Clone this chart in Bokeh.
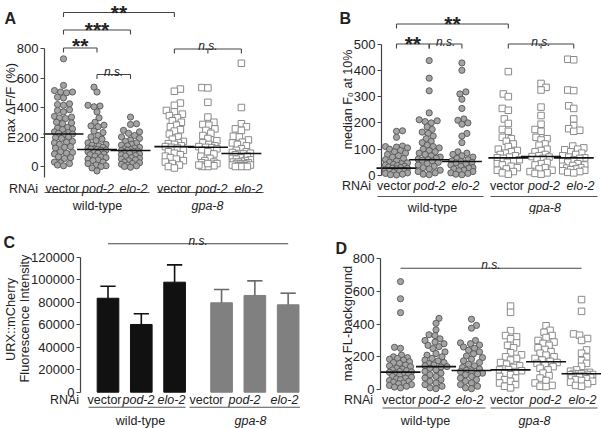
import math
from bokeh.plotting import figure
from bokeh.layouts import gridplot
from bokeh.models import Range1d, FixedTicker, BasicTickFormatter, Label
from bokeh.embed import file_html
from bokeh.resources import INLINE

FONT = "Liberation Sans"
INK = "#222222"
LINE = "#444444"

# ---------------- data ----------------
rnai_labels = ["vector", "pod-2", "elo-2", "vector", "pod-2", "elo-2"]
rnai_italic = [False, True, True, False, True, True]
strain_labels = ["wild-type", "gpa-8"]
strain_italic = [False, True]

# Panel A: max dF/F (%)
a_wt_vector = [730, 550, 515, 505, 505, 500, 470, 465, 425, 420, 415, 385, 380, 370, 340, 335,
               330, 325, 300, 295, 290, 265, 260, 255, 250, 235, 230, 225, 220, 215, 200, 195,
               190, 170, 165, 160, 150, 135, 130, 125, 100, 95, 90, 85, 65, 60, 55, 30, 25, 20, 10, 5]
a_wt_pod2 = [538, 505, 415, 410, 405, 370, 330, 300, 280, 275, 270, 240, 230, 210, 200, 185,
             175, 160, 150, 145, 140, 130, 125, 120, 118, 115, 112, 110, 100, 95, 90, 85, 80,
             70, 65, 60, 50, 45, 40, 30, 20, 10, 5, 0, -10, -30]
a_wt_elo2 = [335, 290, 285, 245, 235, 225, 210, 200, 190, 180, 170, 160, 150, 145, 140, 130,
             125, 120, 115, 110, 108, 105, 100, 95, 90, 85, 80, 75, 70, 60, 55, 50, 45, 40,
             30, 25, 20, 15, 10, 5, 0, -5]
a_gpa_vector = [525, 510, 430, 415, 380, 370, 355, 345, 330, 310, 300, 280, 270, 250, 240, 220,
                200, 185, 170, 160, 155, 150, 140, 135, 130, 125, 110, 100, 90, 80, 70, 60, 50,
                40, 30, 20, 10, 0, -10]
a_gpa_pod2 = [535, 533, 435, 335, 300, 285, 280, 255, 245, 225, 210, 190, 175, 160, 150, 140,
              135, 130, 128, 120, 110, 100, 85, 70, 55, 40, 30, 25, 20, 15, 10, 5, 0, 0, 10, 20]
a_gpa_elo2 = [700, 400, 290, 270, 255, 245, 205, 200, 180, 165, 160, 150, 140, 120, 110, 100,
              95, 90, 88, 85, 80, 70, 60, 55, 50, 45, 40, 35, 30, 30, 25, 20, 20, 15, 15, 10,
              10, 5, 5, 0, 0, 0]
a_medians = [220, 115, 108, 135, 131, 88]

# Panel B: median F0 at 10%
b_wt_vector = [170, 168, 145, 112, 110, 108, 105, 100, 95, 90, 85, 80, 75, 70, 65, 60, 55, 50,
               48, 45, 42, 40, 38, 35, 32, 30, 28, 27, 25, 22, 20, 18, 15, 12, 10, 8, 5, 3, 2]
b_wt_pod2 = [437, 370, 322, 238, 212, 208, 205, 200, 185, 175, 165, 160, 150, 140, 130, 125,
             115, 110, 105, 100, 95, 90, 85, 80, 75, 70, 65, 62, 60, 58, 55, 50, 45, 40, 35,
             30, 25, 20, 15, 10, 5, 3]
b_wt_elo2 = [428, 400, 318, 310, 290, 255, 215, 210, 200, 195, 160, 150, 125, 90, 85, 80, 75,
             70, 65, 60, 55, 53, 50, 48, 45, 40, 35, 30, 28, 25, 20, 18, 15, 10, 8, 5, 3]
b_gpa_vector = [395, 310, 300, 255, 248, 215, 198, 175, 168, 145, 140, 130, 120, 110, 100, 95,
                90, 85, 80, 75, 70, 67, 65, 60, 55, 50, 45, 40, 35, 30, 25, 20, 15, 10, 5]
b_gpa_pod2 = [350, 335, 325, 260, 228, 195, 175, 168, 145, 140, 135, 120, 115, 100, 95, 90, 80,
              75, 72, 70, 65, 60, 50, 45, 40, 30, 25, 20, 15, 10, 8, 5]
b_gpa_elo2 = [442, 440, 325, 323, 265, 255, 215, 190, 178, 172, 168, 112, 105, 100, 98, 90, 85,
              80, 75, 70, 67, 65, 60, 55, 50, 45, 40, 38, 35, 30, 28, 25, 22, 20, 18, 15, 12, 10]
b_medians = [28, 60, 53, 67, 72, 67]

# Panel C: URX::mCherry fluorescence intensity (mean + SEM)
c_mean = [83500, 60200, 97800, 79500, 86000, 77700]
c_upper = [94200, 69700, 113200, 91300, 99000, 88000]

# Panel D: max FL-background
d_wt_vector = [660, 555, 470, 258, 252, 210, 200, 195, 190, 185, 180, 170, 165, 160, 150, 145,
               140, 130, 125, 120, 115, 110, 108, 105, 100, 95, 90, 85, 80, 75, 70, 65, 60, 55,
               50, 45, 40, 35, 30, 25, 20, 15, 10]
d_wt_pod2 = [435, 405, 365, 335, 330, 310, 300, 290, 280, 270, 262, 250, 230, 220, 210, 200,
             190, 180, 175, 165, 158, 150, 145, 140, 138, 130, 120, 110, 100, 90, 80, 70, 60,
             50, 40, 30, 20, 10, 5]
d_wt_elo2 = [430, 392, 375, 300, 285, 280, 272, 260, 252, 240, 230, 218, 205, 195, 185, 175,
             165, 155, 145, 135, 125, 118, 115, 110, 100, 95, 90, 80, 70, 60, 50, 40, 30, 20,
             10, 5]
d_gpa_vector = [510, 472, 360, 330, 322, 310, 285, 270, 255, 225, 212, 200, 190, 180, 165, 155,
                145, 135, 125, 122, 120, 115, 110, 100, 90, 80, 70, 60, 50, 40, 30, 20, 10]
d_gpa_pod2 = [390, 362, 350, 330, 318, 300, 290, 282, 270, 255, 245, 232, 222, 210, 200, 190,
              180, 172, 165, 160, 150, 140, 130, 120, 100, 85, 70, 55, 40, 25, 20, 18]
d_gpa_elo2 = [550, 478, 340, 332, 312, 300, 242, 222, 198, 178, 160, 142, 120, 112, 105, 100,
              98, 96, 95, 92, 90, 88, 85, 82, 80, 75, 70, 65, 60, 55, 50, 45, 35, 25, 20]
d_medians = [106, 140, 116, 120, 170, 96]

# ---------------- layout helpers ----------------
H, RH = 214, 214


class Panel:
    def __init__(self, W, RW, axis_x, c0, u, gap, y0r, k, ybounds, yticks):
        self.sx, self.sy = W / RW, H / RH
        self.c0, self.u, self.y0r, self.k = c0, u, y0r, k
        p = figure(width=W, height=H, output_backend="svg", toolbar_location=None,
                   x_range=Range1d(self.fx(0), self.fx(RW)),
                   y_range=Range1d(self.fy(RH), self.fy(0)),
                   min_border_left=0, min_border_right=0, min_border_top=0,
                   min_border_bottom=0, x_axis_location=None,
                   background_fill_color="white", border_fill_color="white")
        p.outline_line_color = None
        p.grid.visible = False
        ax = p.yaxis[0]
        ax.fixed_location = self.fx(axis_x)
        ax.bounds = ybounds
        ax.ticker = FixedTicker(ticks=yticks)
        ax.formatter = BasicTickFormatter(use_scientific=False)
        ax.axis_line_color = LINE
        ax.axis_line_width = 1.2
        ax.major_tick_line_color = LINE
        ax.major_tick_line_width = 1.2
        ax.major_tick_in = 0
        ax.major_tick_out = 4
        ax.minor_tick_line_color = None
        ax.major_label_text_font = FONT
        ax.major_label_text_font_size = "13px"
        ax.major_label_text_color = INK
        ax.major_label_standoff = 2
        self.p = p
        self.pos = [0, 1, 2, 3 + gap, 4 + gap, 5 + gap]
        self.pxx = u * self.sx
        self.pxy = k * self.sy

    def fx(self, rx):
        return (rx - self.c0) / self.u

    def fy(self, ry):
        return (self.y0r - ry) / self.k

    def text(self, rx, ry, s, size="12.5px", style="normal", align="center",
             baseline="alphabetic", angle=0.0, color=INK):
        self.p.add_layout(Label(x=self.fx(rx), y=self.fy(ry), text=s, text_font=FONT,
                                text_font_size=size, text_font_style=style,
                                text_align=align, text_baseline=baseline, angle=angle,
                                text_color=color))

    def hline(self, x0, x1, ry, color=LINE, width=1.1):
        self.p.segment(x0=[x0], x1=[x1], y0=[self.fy(ry)], y1=[self.fy(ry)],
                       line_color=color, line_width=width)

    def bracket(self, idx, ry, leg=4.5):
        xs = [self.pos[i] for i in idx]
        self.hline(xs[0], xs[-1], ry)
        self.p.segment(x0=xs, x1=xs, y0=[self.fy(ry)] * len(xs),
                       y1=[self.fy(ry + leg)] * len(xs), line_color=LINE, line_width=1.1)

    def bracket_mid(self, idx):
        return self.c0 + self.u * (self.pos[idx[0]] + self.pos[idx[-1]]) / 2

    def xlabels(self, ry_lab, lab_x, ry_line, spans, ry_grp, grp_x, rnai_x):
        self.text(rnai_x, ry_lab, "RNAi")
        for lx, s, it in zip(lab_x, rnai_labels, rnai_italic):
            self.text(lx, ry_lab, s, style="italic" if it else "normal")
        for (a, b) in spans:
            self.hline(self.fx(a), self.fx(b), ry_line, color="#555555", width=1.1)
        for gx, s, it in zip(grp_x, strain_labels, strain_italic):
            self.text(gx, ry_grp, s, style="italic" if it else "normal")


def swarm(vals, pxx, pxy, d=5.6, lim=9):
    order = sorted(range(len(vals)), key=lambda i: vals[i])
    placed = []
    offs = [0.0] * len(vals)
    for n, i in enumerate(order):
        y = vals[i] * pxy
        sgn = 1 if n % 2 == 0 else -1
        cands = [0]
        for j in range(1, lim + 1):
            cands += [sgn * j, -sgn * j]
        best, bestd = 0, -1.0
        for c in cands:
            md = min((math.hypot(c - px, y - py) for px, py in placed if abs(y - py) < d),
                     default=1e9)
            if md >= d:
                best = c
                break
            if md > bestd:
                bestd, best = md, c
        placed.append((best, y))
        offs[i] = best / pxx
    return offs


def scatter_panel(P, groups, medians, lim):
    for gi, vals in enumerate(groups):
        offs = swarm(vals, P.pxx, P.pxy, lim=lim)
        xs = [P.pos[gi] + o for o in offs]
        if gi < 3:
            P.p.scatter(xs, vals, marker="circle", size=6.2, fill_color="#a4a4a4",
                        line_color="#555555", line_width=0.9)
        else:
            P.p.scatter(xs, vals, marker="square", size=6.5, fill_color="white",
                        line_color="#8a8a8a", line_width=1)
    hw = 20 / P.u
    P.p.segment(x0=[x - hw for x in P.pos], x1=[x + hw for x in P.pos], y0=medians,
                y1=medians, line_color="#111111", line_width=1.6)


def stars(P, idx, ry_bottom, s):
    fs = 21
    P.text(P.bracket_mid(idx), ry_bottom + 0.41 * fs / P.sy - 6.5, s, size=f"{fs}px",
           style="bold")


def ns(P, rx, ry_base):
    P.text(rx, ry_base, "n.s.", size="12px", style="italic")


# ---------------- Panel A ----------------
A = Panel(300, 300, axis_x=44, c0=63, u=33.5, gap=0.31, y0r=166, k=29.5 / 200,
          ybounds=(-75, 800), yticks=[0, 200, 400, 600, 800])
scatter_panel(A, [a_wt_vector, a_wt_pod2, a_wt_elo2, a_gpa_vector, a_gpa_pod2, a_gpa_elo2],
              a_medians, lim=9)
A.bracket([0, 3], 12)
stars(A, [0, 3], 9.5, "**")
A.bracket([0, 2], 29.5)
stars(A, [0, 2], 26.5, "***")
A.bracket([0, 1], 47.5)
stars(A, [0, 1], 43, "**")
A.bracket([1, 2], 74)
ns(A, A.bracket_mid([1, 2]), 71.5)
A.bracket([3, 4, 5], 48.5)
ns(A, A.bracket_mid([3, 5]), 45.5)
A.xlabels(188.5, [62, 97.5, 133, 173.5, 211, 248], 192,
          [(44, 149), (157, 263)], 205, [97, 207], 23)
A.text(10, 102.5, "max \u0394F/F (%)", size="13px", baseline="middle", angle=math.pi / 2)
A.text(4, 17.5, "A", size="16px", style="bold", align="left")

# ---------------- Panel B ----------------
B = Panel(301, 301, axis_x=81, c0=96, u=32.7, gap=0.42, y0r=175, k=26.3 / 100,
          ybounds=(0, 500), yticks=[0, 100, 200, 300, 400, 500])
scatter_panel(B, [b_wt_vector, b_wt_pod2, b_wt_elo2, b_gpa_vector, b_gpa_pod2, b_gpa_elo2],
              b_medians, lim=11)
B.bracket([0, 3], 23.5)
stars(B, [0, 3], 20.5, "**")
B.bracket([0, 1], 43.5)
stars(B, [0, 1], 40.5, "**")
B.bracket([1, 2], 43.5)
ns(B, B.bracket_mid([1, 2]), 41)
B.bracket([3, 4, 5], 43.5)
ns(B, B.bracket_mid([3, 5]), 41)
B.xlabels(185, [93.5, 129, 165, 206.5, 243.5, 280], 196,
          [(77, 183), (190, 297)], 207, [132, 244.5], 56)
B.text(47, 99, "median F\u2080 at 10%", size="12.5px", baseline="middle", angle=math.pi / 2)
B.text(39, 17.5, "B", size="16px", style="bold", align="left")

# ---------------- Panel C ----------------
C = Panel(300, 300, axis_x=80, c0=107.5, u=33.3, gap=0.41, y0r=177.7, k=22.5 / 20000,
          ybounds=(0, 120000), yticks=[0, 20000, 40000, 60000, 80000, 100000, 120000])
bar_col = ["#111111"] * 3 + ["#808080"] * 3
err_col = ["#111111"] * 3 + ["#6a6a6a"] * 3
C.p.vbar(x=C.pos, top=c_mean, width=0.65, fill_color=bar_col, line_color=bar_col)
C.p.segment(x0=C.pos, x1=C.pos, y0=c_mean, y1=c_upper, line_color=err_col, line_width=1.6)
cap = 0.23
C.p.segment(x0=[x - cap for x in C.pos], x1=[x + cap for x in C.pos], y0=c_upper,
            y1=c_upper, line_color=err_col, line_width=1.6)
C.hline(C.pos[0], C.pos[5], 29.3)
ns(C, C.bracket_mid([0, 5]), 26)
C.xlabels(185.5, [104, 138, 171, 206, 244, 284], 192.7,
          [(88, 185), (189, 303)], 206.5, [140, 250], 64)
C.text(10, 105, "URX::mCherry", size="12.8px", baseline="middle", angle=math.pi / 2)
C.text(23.5, 104, "Fluorescence Intensity", size="12.8px", baseline="middle",
       angle=math.pi / 2)
C.text(3, 28, "C", size="16px", style="bold", align="left")

# ---------------- Panel D ----------------
D = Panel(301, 301, axis_x=80, c0=100, u=35.5, gap=0.1, y0r=175, k=32.7 / 200,
          ybounds=(0, 800), yticks=[0, 200, 400, 600, 800])
scatter_panel(D, [d_wt_vector, d_wt_pod2, d_wt_elo2, d_gpa_vector, d_gpa_pod2, d_gpa_elo2],
              d_medians, lim=11)
D.hline(D.pos[0], D.pos[5], 53.7)
ns(D, D.bracket_mid([0, 5]), 50.5)
D.xlabels(185.5, [98.5, 134, 169, 206.5, 245, 282], 193.5,
          [(82, 185), (190, 297)], 206.5, [125, 234], 58)
D.text(47, 109, "max FL-background", size="13px", baseline="middle", angle=math.pi / 2)
D.text(35, 34, "D", size="16px", style="bold", align="left")

grid = gridplot([[A.p, B.p], [C.p, D.p]], toolbar_location=None)

with open("out.html", "w") as f:
    f.write(file_html(grid, INLINE, title="Figure"))
